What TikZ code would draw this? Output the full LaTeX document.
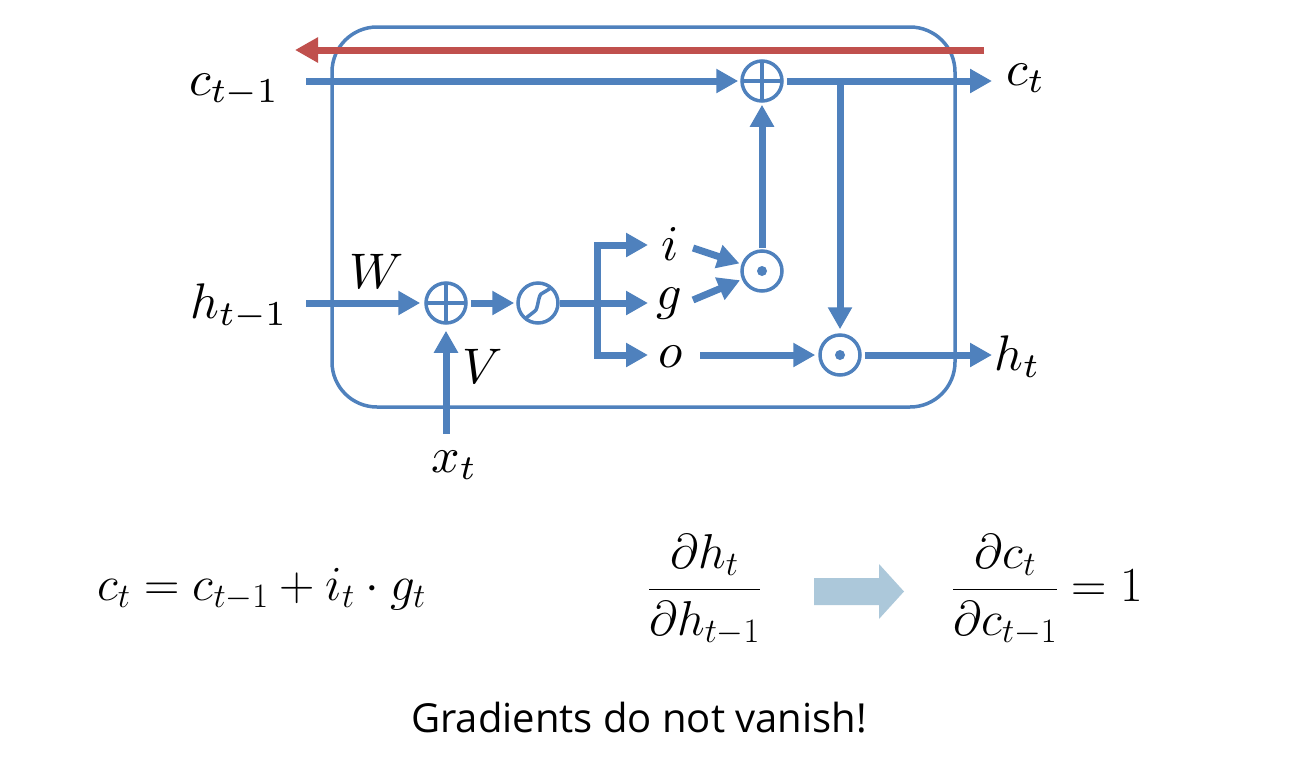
\RequirePackage{fix-cm}
\documentclass[tikz,border=0pt]{standalone}
\usepackage{fontspec}
\newfontfamily\gradfont{Open Sans}
\usetikzlibrary{arrows.meta}
\definecolor{lstmblue}{HTML}{4F81BD}
\definecolor{gradred}{HTML}{C0504D}
\definecolor{paleblue}{HTML}{ACC8DA}
\newcommand\lstmmath[1]{\scalebox{5}{$#1$}}
\begin{document}
\begin{tikzpicture}[x=1pt,y=-1pt,
  wire/.style={draw=lstmblue,line width=7pt},
  flow/.style={wire,-{Triangle[length=22pt,width=23pt]}},
  back/.style={draw=gradred,line width=7pt,-{Triangle[length=23pt,width=24pt]}},
  op/.style={circle,draw=lstmblue,line width=3.5pt,minimum size=40pt,inner sep=0pt},
  plusop/.style={op,path picture={\draw[lstmblue,line width=3.5pt] (path picture bounding box.north)--(path picture bounding box.south) (path picture bounding box.west)--(path picture bounding box.east);}},
  dotop/.style={op,path picture={\fill[lstmblue] (path picture bounding box.center) circle[radius=5pt];}},
  lab/.style={inner sep=0pt,font=\fontsize{10}{12}\selectfont},
  eqlab/.style={inner sep=0pt,font=\fontsize{49}{58}\selectfont},
]
\useasboundingbox (0,0) rectangle (1296,772);
% cell
\node[draw=lstmblue,line width=3.5pt,rounded corners=45pt,minimum width=623pt,minimum height=380pt,inner sep=0pt] (cell) at (643.5,217) {};
% operators
\node[plusop] (pt) at (762,81) {};
\node[plusop] (pw) at (446,303) {};
\node[op] (sg) at (538,303) {};
\node[dotop] (m1) at (762,271) {};
\node[dotop] (m2) at (840,355) {};
\begin{scope}[shift={(sg.center)}]
\draw[lstmblue,line width=3.5pt] (-12,15) -- (-3,8) .. controls (0,6) and (0,-6) .. (3,-9) -- (13,-15);
\end{scope}
% labels
\node[lab,anchor=base west] (cprev) at (189,95) {\lstmmath{c_{t-1}}};
\node[lab,anchor=base west] (hprev) at (190,318) {\lstmmath{h_{t-1}}};
\node[lab,anchor=base west] (xt) at (431,472) {\lstmmath{x_t}};
\node[lab,anchor=base west] (wl) at (349,288) {\lstmmath{W}};
\node[lab,anchor=base west] (vl) at (462,383) {\lstmmath{V}};
\node[lab,anchor=base] (il) at (670,260) {\lstmmath{i}};
\node[lab,anchor=base] (gl) at (669,309) {\lstmmath{g}};
\node[lab,anchor=base] (ol) at (671,367) {\lstmmath{o}};
\node[lab,anchor=base west] (cnext) at (1006,85) {\lstmmath{c_t}};
\node[lab,anchor=base west] (hnext) at (994,370) {\lstmmath{h_t}};
% connector ends
\coordinate (cin) at (306,81);
\coordinate (cout) at (992,81);
\coordinate (jn) at (840,81);
\coordinate (hin) at (306,303);
\coordinate (xin) at (446,434);
\coordinate (bi) at (597,245);
\coordinate (bg) at (597,303);
\coordinate (bo) at (597,355);
\coordinate (ti) at (648,245);
\coordinate (tg) at (648,303);
\coordinate (to) at (648,355);
\coordinate (fi) at (693,248);
\coordinate (fg) at (693,300);
\coordinate (fo) at (700,355);
\coordinate (hout) at (992,355);
\coordinate (rs) at (984,50);
\coordinate (re) at (295,50);
% connectors
\draw[flow,shorten >=2pt] (cin) -- (pt);
\draw[flow,shorten <=3pt] (pt) -- (cout);
\draw[flow,shorten >=4pt] (jn) -- (m2);
\draw[flow,shorten <=1pt,shorten >=2pt] (m1) -- (pt);
\draw[flow,shorten >=4pt] (hin) -- (pw);
\draw[flow,shorten >=6pt] (xin) -- (pw);
\draw[flow,shorten <=3pt,shorten >=2pt] (pw) -- (sg);
\draw[wire] (sg) -- (bg);
\draw[wire,line cap=rect] (bi) -- (bo);
\draw[flow] (bi) -- (ti);
\draw[flow] (bg) -- (tg);
\draw[flow] (bo) -- (to);
\draw[flow,shorten >=2pt] (fi) -- (m1);
\draw[flow,shorten >=2pt] (fg) -- (m1);
\draw[flow,shorten >=3pt] (fo) -- (m2);
\draw[flow,shorten <=3pt] (m2) -- (hout);
\draw[back] (rs) -- (re);
% bottom
\node[eqlab,anchor=base west] (eqc) at (97,600) {$c_t = c_{t-1} + i_t \cdot g_t$};
\node[eqlab,anchor=base] (dh) at (704.5,601.5) {$\displaystyle\frac{\partial h_t}{\partial h_{t-1}}$};
\fill[paleblue] (814,578) -- (879,578) -- (879,564) -- (904,591.5) -- (879,619) -- (879,605) -- (814,605) -- cycle;
\node[eqlab,anchor=base west] (dc) at (952,601.5) {$\displaystyle\frac{\partial c_t}{\partial c_{t-1}} = 1$};
\node[inner sep=0pt,anchor=base,font=\gradfont\fontsize{40}{46}\selectfont] (msg) at (639,732) {Gradients do not vanish!};
\end{tikzpicture}
\end{document}
